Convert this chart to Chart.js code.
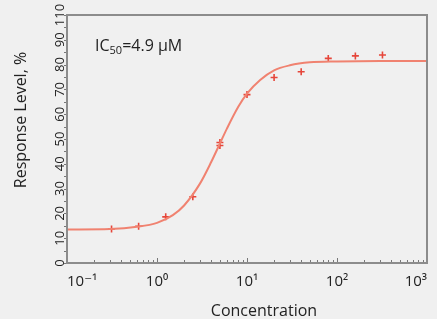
<!DOCTYPE html>
<html>
<head>
<meta charset="utf-8">
<script src="https://cdn.jsdelivr.net/npm/chart.js@4"></script>
<style>
  html, body { margin: 0; padding: 0; background: #f0f0f0; }
  #wrap { width: 437px; height: 319px; }
</style>
</head>
<body>
<div id="wrap"><canvas id="myChart"></canvas></div>
<script>
// fitted dose-response curve
const curveConc = [0.1, 0.3, 0.6, 1, 1.5, 2, 3, 4, 5, 6, 8, 10, 14, 20, 30, 50, 100, 300, 1000];
const curveResp = [13.5, 13.7, 14.6, 16.2, 19.3, 23.2, 32.0, 40.7, 48.2, 54.3, 63.0, 68.3, 73.8, 77.7, 79.7, 80.9, 81.3, 81.5, 81.5];

// measured points
const pointConc = [0.3125, 0.625, 1.25, 2.5, 5, 5, 10, 20, 40, 80, 160, 320];
const pointResp = [13.7, 14.8, 18.6, 26.7, 48.6, 47.4, 67.9, 74.8, 77.1, 82.5, 83.5, 83.9];

const xTickValues = [0.1, 1, 10, 100, 1000];
const xTickLabels = ["10\u207B\u00B9", "10\u2070", "10\u00B9", "10\u00B2", "10\u00B3"];
const yTickValues = [0, 10, 20, 30, 40, 50, 60, 70, 80, 90, 100];
const yTickLabels = ["0", "10", "20", "30", "40", "50", "60", "70", "80", "90", "110"];

const FONT = "'Open Sans', 'DejaVu Sans', sans-serif";

const decor = {
  id: "decor",
  afterDraw(chart) {
    const ctx = chart.ctx;
    const a = chart.chartArea;
    const xs = chart.scales.x;
    const ys = chart.scales.y;
    ctx.save();

    // minor ticks on x axis (inside)
    ctx.strokeStyle = "#777";
    ctx.lineWidth = 1;
    for (let d = -1; d < 3; d++) {
      for (let m = 1; m <= 9; m++) {
        const v = m * Math.pow(10, d);
        const px = Math.round(xs.getPixelForValue(v)) + 0.5;
        const len = m === 1 ? 5 : 3;
        ctx.beginPath();
        ctx.moveTo(px, a.bottom);
        ctx.lineTo(px, a.bottom - len);
        ctx.stroke();
      }
    }
    // ticks on y axis (outside)
    for (let v = 0; v <= 100; v += 5) {
      const py = Math.round(ys.getPixelForValue(v)) + 0.5;
      ctx.beginPath();
      ctx.moveTo(a.left, py);
      ctx.lineTo(a.left - 3, py);
      ctx.stroke();
    }

    // frame
    ctx.strokeStyle = "#8c8c8c";
    ctx.lineWidth = 2;
    ctx.strokeRect(a.left, a.top, a.right - a.left, a.bottom - a.top);

    // annotation
    ctx.fillStyle = "#222";
    ctx.textBaseline = "alphabetic";
    ctx.textAlign = "left";
    let x = a.left + 28;
    const y = a.top + 36;
    ctx.font = "16px " + FONT;
    ctx.fillText("IC", x, y);
    x += ctx.measureText("IC").width;
    ctx.font = "11px " + FONT;
    ctx.fillText("50", x, y + 3);
    x += ctx.measureText("50").width;
    ctx.font = "16px " + FONT;
    ctx.fillText("=4.9 \u00B5M", x, y);

    // axis titles
    ctx.font = "16px " + FONT;
    ctx.textAlign = "center";
    ctx.textBaseline = "middle";
    ctx.fillText("Concentration", 264, 311);
    ctx.translate(21, 120);
    ctx.rotate(-Math.PI / 2);
    ctx.fillText("Response Level, %", 0, 0);
    ctx.restore();
  }
};

const data = {
  datasets: [
    {
      label: "fit",
      data: curveConc.map((c, i) => ({ x: c, y: curveResp[i] })),
      showLine: true,
      borderColor: "rgb(240,130,112)",
      borderWidth: 2,
      pointRadius: 0,
      cubicInterpolationMode: "monotone",
    },
    {
      label: "measured",
      data: pointConc.map((c, i) => ({ x: c, y: pointResp[i] })),
      showLine: false,
      pointStyle: "cross",
      pointRadius: 3.5,
      borderColor: "rgb(230,70,58)",
      borderWidth: 1.6,
    },
  ],
};

const config = {
  type: "scatter",
  data: data,
  plugins: [decor],
  options: {
    responsive: true,
    maintainAspectRatio: false,
    animation: false,
    layout: { padding: { top: 15, right: 9, left: 0, bottom: 0 } },
    plugins: { legend: { display: false }, tooltip: { enabled: false } },
    scales: {
      x: {
        type: "logarithmic",
        min: 0.1,
        max: 1000,
        afterBuildTicks: (s) => { s.ticks = xTickValues.map(v => ({ value: v })); },
        afterFit: (s) => { s.height = 56; },
        grid: { display: false, drawTicks: false },
        border: { display: false },
        ticks: {
          align: "inner",
          padding: 10,
          color: "#222",
          font: { family: FONT, size: 15 },
          callback: (v, i) => xTickLabels[i],
        },
      },
      y: {
        min: 0,
        max: 100,
        afterBuildTicks: (s) => { s.ticks = yTickValues.map(v => ({ value: v })); },
        afterFit: (s) => { s.width = 67; },
        grid: { display: false, drawTicks: false },
        border: { display: false },
        ticks: {
          autoSkip: false,
          minRotation: 90,
          maxRotation: 90,
          crossAlign: "center",
          padding: -4,
          color: "#222",
          font: { family: FONT, size: 13 },
          callback: (v, i) => yTickLabels[i],
        },
      },
    },
  },
};

window.onload = function () {
  const ctx = document.getElementById("myChart").getContext("2d");
  new Chart(ctx, config);
};
</script>
</body>
</html>
